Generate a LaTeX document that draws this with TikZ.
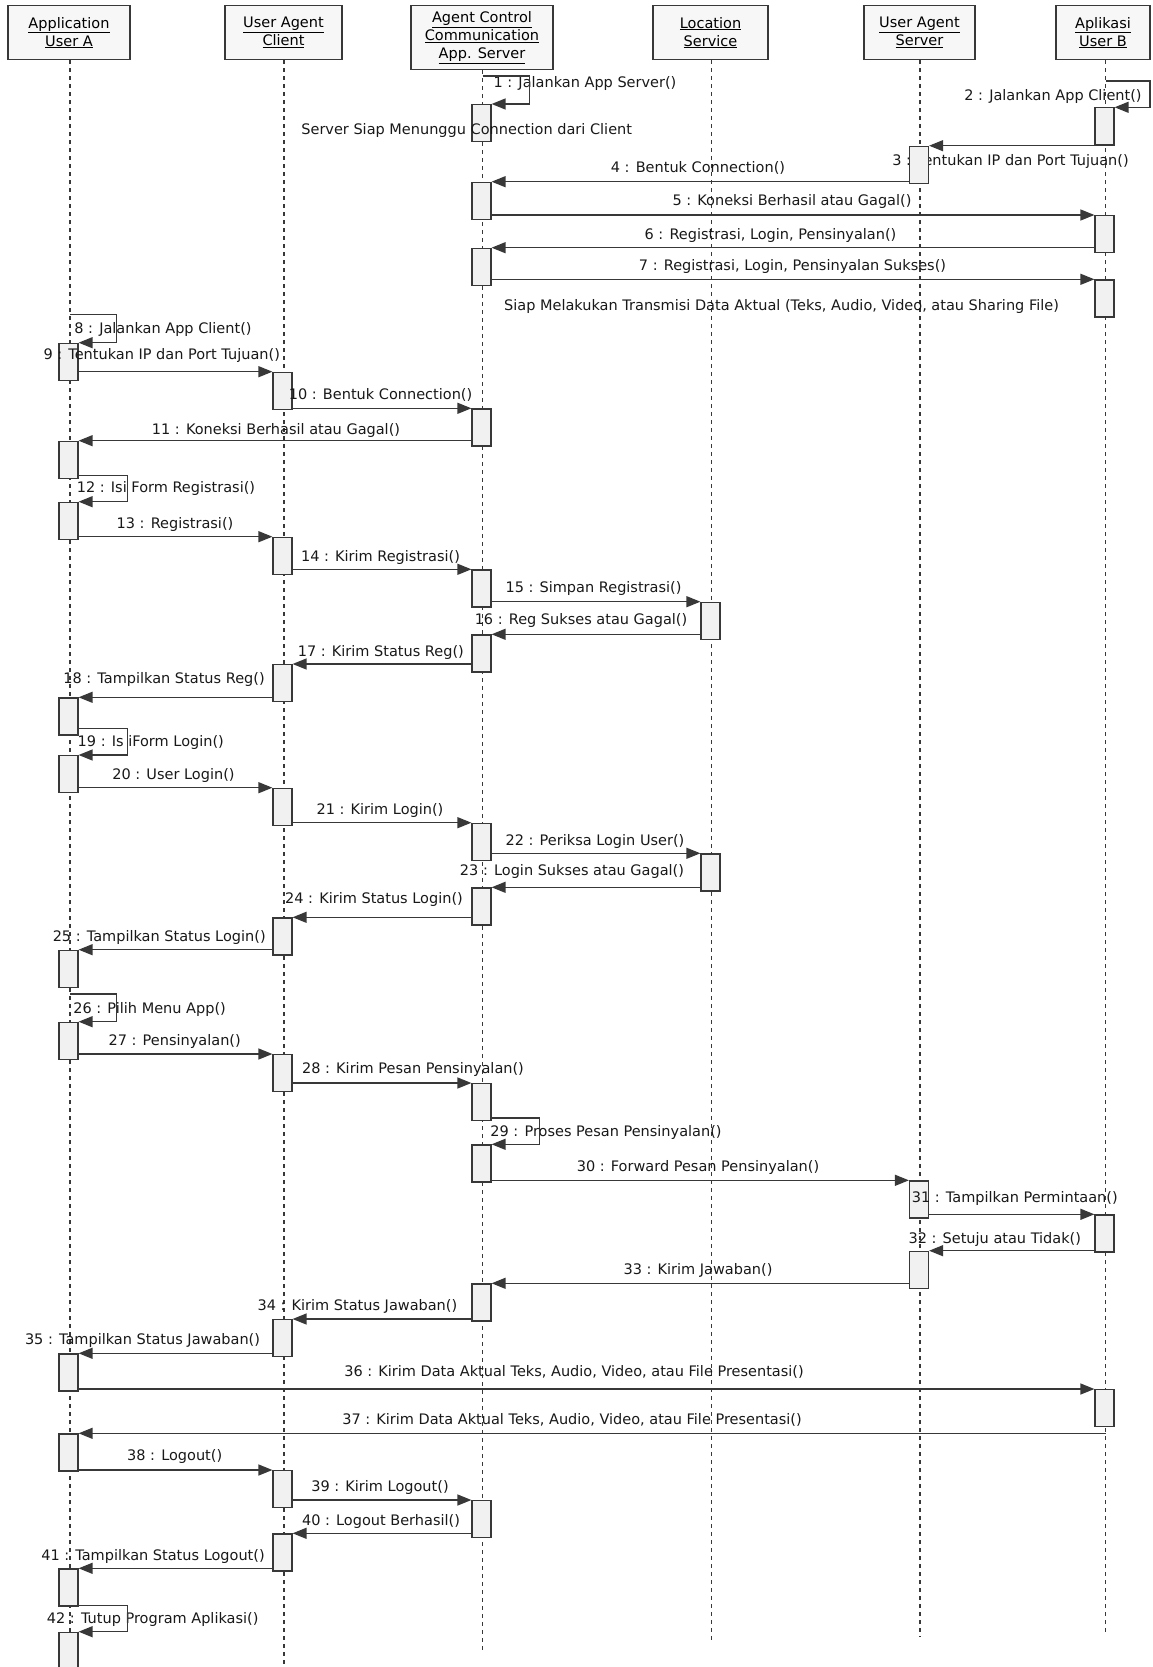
\documentclass[tikz,border=0pt]{standalone}
\usepackage{xcolor}
\usepackage{tikz}
\usepackage{fontspec}
\setmainfont{DejaVu Sans}
\usetikzlibrary{arrows.meta}

\definecolor{linegray}{HTML}{383838}
\definecolor{boxfill}{HTML}{F1F1F1}
\definecolor{headfill}{HTML}{F7F7F7}

\begin{document}
\begin{tikzpicture}[x=1pt, y=-1pt, >={Triangle[length=14pt,width=11pt]},
    font=\fontsize{14.5}{18}\selectfont,
    head/.style={draw=linegray, line width=1.2pt, fill=headfill, align=center,
                 anchor=north, minimum height=54pt, inner sep=2pt},
    life/.style={draw=linegray, line width=1.3pt, dash pattern=on 4pt off 4pt},
    act/.style={draw=linegray, line width=1.2pt, fill=boxfill, anchor=north,
                minimum width=19pt, minimum height=37pt, inner sep=0pt},
    msg/.style={draw=linegray, line width=1.3pt, ->},
    lbl/.style={inner sep=0pt, text=black!90}]
      \fill[white] (0,0) rectangle (1153,1667);
      \useasboundingbox (0,0) rectangle (1153,1667);

      % objects
      \node[head, minimum width=122pt] (hA) at (69,5)    {\underline{Application}\\\underline{User A}};
      \node[head, minimum width=117pt] (hC) at (283.5,5) {\underline{User Agent}\\\underline{Client}};
      \node[head, minimum width=142pt, minimum height=64pt] (hS) at (482,5)
            {\underline{Agent Control}\\\underline{Communication}\\\underline{App. Server}};
      \node[head, minimum width=115pt] (hL) at (710.5,5) {\underline{Location}\\\underline{Service}};
      \node[head, minimum width=111pt] (hU) at (919.5,5) {\underline{User Agent}\\\underline{Server}};
      \node[head, minimum width=94pt]  (hB) at (1103,5)  {\underline{Aplikasi}\\\underline{User B}};

      % lifelines
      \coordinate (eA) at (70,1667);
      \coordinate (eC) at (284,1667);
      \coordinate (eS) at (482.5,1652);
      \coordinate (eL) at (711.5,1643);
      \coordinate (eU) at (920,1637);
      \coordinate (eB) at (1105.5,1635);
      \foreach \p in {A,C,S,L,U,B}
        \draw[life] (e\p |- h\p.south) -- (e\p);

      % this label lies under the activation box
      \node[lbl] (t3) at (1010.5,161) {3 : Tentukan IP dan Port Tujuan()};

      % activation boxes
      \foreach \y [count=\i] in {342.7,440.7,501.7,697.3,755,949.7,1021.7,1353.3,1433.3,1568.3,1631.7}
        \node[act] (a\i) at (68.5,\y) {};
      \foreach \y [count=\i] in {371.7,536.7,664,787.7,917.3,1054,1319,1470,1533.3}
        \node[act] (c\i) at (282.5,\y) {};
      \foreach \y [count=\i] in {104,181.7,247.7,408.3,569.3,634.3,822.7,887.3,1083,1144.3,1283.3,1500}
        \node[act] (s\i) at (481.5,\y) {};
      \foreach \y [count=\i] in {601.7,853.3}
        \node[act] (l\i) at (710.5,\y) {};
      \foreach \y [count=\i] in {145.7,1180.3,1250.7}
        \node[act] (u\i) at (919,\y) {};
      \foreach \y [count=\i] in {107.3,215,279.3,1214.3,1389}
        \node[act] (b\i) at (1104.5,\y) {};

      % notes
      \node[lbl] (n1) at (466.7,130.3) {Server Siap Menunggu Connection dari Client};
      \node[lbl] (n2) at (781.5,306) {Siap Melakukan Transmisi Data Aktual (Teks, Audio, Video, atau Sharing File)};

      % message labels
      \node[lbl] (t1)  at (585,84)      {1 : Jalankan App Server()};
      \node[lbl] (t2)  at (1053,96.7)   {2 : Jalankan App Client()};
      \node[lbl] (t4)  at (698,168.3)   {4 : Bentuk Connection()};
      \node[lbl] (t5)  at (792,201.7)   {5 : Koneksi Berhasil atau Gagal()};
      \node[lbl] (t6)  at (770.5,235)   {6 : Registrasi, Login, Pensinyalan()};
      \node[lbl] (t7)  at (792.5,266.7) {7 : Registrasi, Login, Pensinyalan Sukses()};
      \node[lbl] (t8)  at (163,329.3)   {8 : Jalankan App Client()};
      \node[lbl] (t9)  at (161.7,355)   {9 : Tentukan IP dan Port Tujuan()};
      \node[lbl] (t10) at (380.6,395)   {10 : Bentuk Connection()};
      \node[lbl] (t11) at (276,430)     {11 : Koneksi Berhasil atau Gagal()};
      \node[lbl] (t12) at (166,488.3)   {12 : Isi Form Registrasi()};
      \node[lbl] (t13) at (175,524)     {13 : Registrasi()};
      \node[lbl] (t14) at (380.5,557.3) {14 : Kirim Registrasi()};
      \node[lbl] (t15) at (593.5,588.3) {15 : Simpan Registrasi()};
      \node[lbl] (t16) at (581,620)     {16 : Reg Sukses atau Gagal()};
      \node[lbl] (t17) at (380.8,652.7) {17 : Kirim Status Reg()};
      \node[lbl] (t18) at (164,679.3)   {18 : Tampilkan Status Reg()};
      \node[lbl] (t19) at (150.8,742.7) {19 : Is iForm Login()};
      \node[lbl] (t20) at (173.5,775.7) {20 : User Login()};
      \node[lbl] (t21) at (380,810)     {21 : Kirim Login()};
      \node[lbl] (t22) at (595,841.7)   {22 : Periksa Login User()};
      \node[lbl] (t23) at (572,871.7)   {23 : Login Sukses atau Gagal()};
      \node[lbl] (t24) at (374,899)     {24 : Kirim Status Login()};
      \node[lbl] (t25) at (159.2,937.3) {25 : Tampilkan Status Login()};
      \node[lbl] (t26) at (149.6,1009)  {26 : Pilih Menu App()};
      \node[lbl] (t27) at (174.7,1041.7) {27 : Pensinyalan()};
      \node[lbl] (t28) at (413,1069.3)  {28 : Kirim Pesan Pensinyalan()};
      \node[lbl] (t29) at (606,1132.3)  {29 : Proses Pesan Pensinyalan()};
      \node[lbl] (t30) at (698,1167.7)  {30 : Forward Pesan Pensinyalan()};
      \node[lbl] (t31) at (1014.8,1198.3) {31 : Tampilkan Permintaan()};
      \node[lbl] (t32) at (994.8,1239)  {32 : Setuju atau Tidak()};
      \node[lbl] (t33) at (698,1270.7)  {33 : Kirim Jawaban()};
      \node[lbl] (t34) at (357.4,1306.7) {34 : Kirim Status Jawaban()};
      \node[lbl] (t35) at (142.5,1340.7) {35 : Tampilkan Status Jawaban()};
      \node[lbl] (t36) at (574,1371.7)  {36 : Kirim Data Aktual Teks, Audio, Video, atau File Presentasi()};
      \node[lbl] (t37) at (572,1420)    {37 : Kirim Data Aktual Teks, Audio, Video, atau File Presentasi()};
      \node[lbl] (t38) at (174.7,1456.7) {38 : Logout()};
      \node[lbl] (t39) at (380,1487.3)  {39 : Kirim Logout()};
      \node[lbl] (t40) at (381,1521.7)  {40 : Logout Berhasil()};
      \node[lbl] (t41) at (153,1556)    {41 : Tampilkan Status Logout()};
      \node[lbl] (t42) at (152.7,1619.3) {42 : Tutup Program Aplikasi()};

      % messages
      \draw[msg] (eS |- s1.north) ++(0,-28) -- ++(47,0) |- (s1.north east);
      \draw[msg] (eB |- b1.north) ++(0,-26.3) -- ++(44.5,0) |- (b1.north east);
      \draw[msg] (b1.west |- u1.north) -- (u1.north east);
      \draw[msg] (u1.west |- s2.north) -- (s2.north east);
      \draw[msg] (s2.east |- b2.north) -- (b2.north west);
      \draw[msg] (b2.west |- s3.north) -- (s3.north east);
      \draw[msg] (s3.east |- b3.north) -- (b3.north west);
      \draw[msg] (eA |- a1.north) ++(0,-28.4) -- ++(46.7,0) |- (a1.north east);
      \draw[msg] (a1.east |- c1.north) -- (c1.north west);
      \draw[msg] (c1.east |- s4.north) -- (s4.north west);
      \draw[msg] (s4.west |- a2.north) -- (a2.north east);
      \draw[msg] (a2.south east) ++(0,-3.3) -- ++(48.6,0) |- (a3.north east);
      \draw[msg] (a3.east |- c2.north) -- (c2.north west);
      \draw[msg] (c2.east |- s5.north) -- (s5.north west);
      \draw[msg] (s5.east |- l1.north) -- (l1.north west);
      \draw[msg] (l1.west |- s6.north) -- (s6.north east);
      \draw[msg] (s6.west |- c3.north) -- (c3.north east);
      \draw[msg] (c3.west |- a4.north) -- (a4.north east);
      \draw[msg] (a4.south east) ++(0,-6.7) -- ++(48.6,0) |- (a5.north east);
      \draw[msg] (a5.east |- c4.north) -- (c4.north west);
      \draw[msg] (c4.east |- s7.north) -- (s7.north west);
      \draw[msg] (s7.east |- l2.north) -- (l2.north west);
      \draw[msg] (l2.west |- s8.north) -- (s8.north east);
      \draw[msg] (s8.west |- c5.north) -- (c5.north east);
      \draw[msg] (c5.west |- a6.north) -- (a6.north east);
      \draw[msg] (eA |- a7.north) ++(0,-27.7) -- ++(46.8,0) |- (a7.north east);
      \draw[msg] (a7.east |- c6.north) -- (c6.north west);
      \draw[msg] (c6.east |- s9.north) -- (s9.north west);
      \draw[msg] (s9.south east) ++(0,-3.3) -- ++(48,0) |- (s10.north east);
      \draw[msg] (s10.east |- u2.north) -- (u2.north west);
      \draw[msg] (u2.east |- b4.north) -- (b4.north west);
      \draw[msg] (b4.west |- u3.north) -- (u3.north east);
      \draw[msg] (u3.west |- s11.north) -- (s11.north east);
      \draw[msg] (s11.west |- c7.north) -- (c7.north east);
      \draw[msg] (c7.west |- a8.north) -- (a8.north east);
      \draw[msg] (a8.east |- b5.north) -- (b5.north west);
      \draw[msg] (eB |- a9.north) -- (a9.north east);
      \draw[msg] (a9.east |- c8.north) -- (c8.north west);
      \draw[msg] (c8.east |- s12.north) -- (s12.north west);
      \draw[msg] (s12.west |- c9.north) -- (c9.north east);
      \draw[msg] (c9.west |- a10.north) -- (a10.north east);
      \draw[msg] (a10.south east) ++(0,-1.3) -- ++(48.6,0) |- (a11.north east);
\end{tikzpicture}
\end{document}
